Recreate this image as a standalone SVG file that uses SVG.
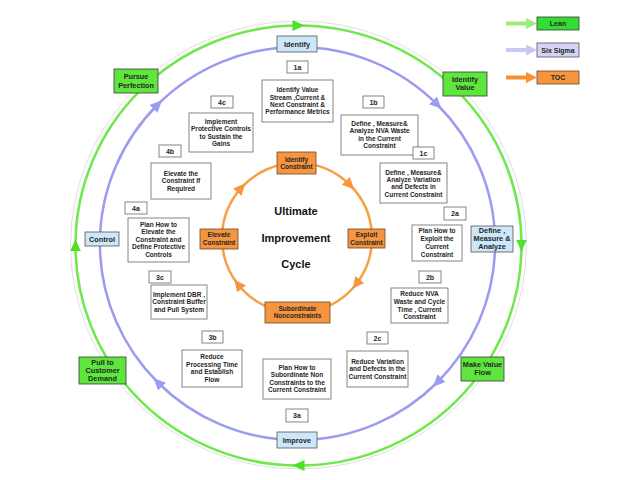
<svg xmlns="http://www.w3.org/2000/svg" width="640" height="480" viewBox="0 0 640 480">
<style>
text{font-family:"Liberation Sans",Arial,sans-serif;font-weight:bold;fill:#262626;text-anchor:middle}
.t{font-size:6.5px}
.lb{font-size:7px}
.c{font-size:7.3px}
.ttl{font-size:11px;fill:#111}
.wb{fill:#fff;stroke:#666;stroke-width:0.8}
.gb{fill:#5fe63c;stroke:#3a3a3a;stroke-width:0.8}
.bb{fill:#cbe7f8;stroke:#555;stroke-width:0.8}
.ob{fill:#f7953e;stroke:#6a4a2a;stroke-width:0.8}
.ring{fill:none;stroke-width:2.5}
</style>
<defs>
<marker id="ag" markerUnits="userSpaceOnUse" markerWidth="13" markerHeight="13" refX="6" refY="5.5" orient="auto"><path d="M0,0 L12,5.5 L0,11 z" fill="#4fe02a"/></marker>
<marker id="ap" markerUnits="userSpaceOnUse" markerWidth="13" markerHeight="13" refX="6" refY="5.5" orient="auto"><path d="M0,0 L12,5.5 L0,11 z" fill="#9b9bf2"/></marker>
<marker id="ao" markerUnits="userSpaceOnUse" markerWidth="13" markerHeight="13" refX="6" refY="5.5" orient="auto"><path d="M0,0 L12,5.5 L0,11 z" fill="#f7963a"/></marker>
</defs>

<g id="connectors">
<ellipse cx="298.5" cy="245" rx="228" ry="224" fill="none" stroke="#e0e0e0" stroke-width="1"/>
<path class="ring" stroke="#6ee84a" marker-mid="url(#ag)" d="M140.8,89.9 A223,220 0 0 1 298.5,25.5 A223,220 0 0 1 521.5,245.5 A223,220 0 0 1 298.5,465.5 A223,220 0 0 1 75.5,245.5 A223,220 0 0 1 140.8,89.9"/>
<path class="ring" stroke="#9b9bf2" marker-mid="url(#ap)" d="M297.5,47 A197.5,196.5 0 0 1 437.2,104.5 A197.5,196.5 0 0 1 437.2,382.5 A197.5,196.5 0 0 1 157.8,382.5 A197.5,196.5 0 0 1 157.8,104.5 A197.5,196.5 0 0 1 297.5,47"/>
<path class="ring" stroke="#f7a045" marker-mid="url(#ao)" d="M297,163 A75,75 0 0 1 350,185 A75,75 0 0 1 356.1,284.2 A75,75 0 0 1 237.9,284.2 A75,75 0 0 1 241.3,187.8 A75,75 0 0 1 297,163"/>
</g>

<g id="legend">
<g id="leg-lean"><line x1="506" y1="23.5" x2="528" y2="23.5" stroke="#9cec7c" stroke-width="4"/><path d="M526,18 L537,23.5 L526,29 z" fill="#9cec7c"/><rect class="gb" x="537" y="17" width="42" height="13" style="fill:#33dd33"/><text class="lb" x="558" y="26">Lean</text></g>
<g id="leg-sigma"><line x1="506" y1="50" x2="528" y2="50" stroke="#c8c8f4" stroke-width="4"/><path d="M526,44.5 L537,50 L526,55.5 z" fill="#c8c8f4"/><rect class="bb" x="537" y="43" width="42" height="14" style="fill:#d4d4f6"/><text class="lb" x="558" y="52.5">Six Sigma</text></g>
<g id="leg-toc"><line x1="506" y1="77.5" x2="528" y2="77.5" stroke="#f59033" stroke-width="4"/><path d="M526,72 L537,77.5 L526,83 z" fill="#f59033"/><rect class="ob" x="537" y="71" width="42" height="13"/><text class="lb" x="558" y="80">TOC</text></g>
</g>

<g id="title"><text class="ttl" x="296" y="215">Ultimate</text><text class="ttl" x="296" y="242">Improvement</text><text class="ttl" x="296" y="268">Cycle</text></g>

<g id="identify-constraint"><rect class="ob" x="277" y="152" width="39" height="22"/><text class="t" x="296.5" y="161.5">Identify</text><text class="t" x="296.5" y="169">Constraint</text></g>
<g id="exploit-constraint"><rect class="ob" x="348" y="229" width="37" height="19"/><text class="t" x="366.5" y="237.3">Exploit</text><text class="t" x="366.5" y="244.6">Constraint</text></g>
<g id="subordinate"><rect class="ob" x="265" y="302" width="65" height="21"/><text class="t" x="297.5" y="310.6">Subordinate</text><text class="t" x="297.5" y="318">Nonconstraints</text></g>
<g id="elevate-constraint"><rect class="ob" x="200" y="229" width="38" height="20"/><text class="t" x="219" y="237.3">Elevate</text><text class="t" x="219" y="244.6">Constraint</text></g>

<g id="identify"><rect class="bb" x="277" y="36" width="40" height="16"/><text class="c" x="297" y="46.7">Identify</text></g>
<g id="dma"><rect class="bb" x="471" y="226" width="42" height="26"/><text class="c" x="492" y="232.5">Define ,</text><text class="c" x="492" y="240.8">Measure  &amp;</text><text class="c" x="492" y="249.1">Analyze</text></g>
<g id="improve"><rect class="bb" x="277" y="432" width="40" height="16"/><text class="c" x="297" y="442.7">Improve</text></g>
<g id="control"><rect class="bb" x="85" y="232" width="34" height="14"/><text class="c" x="102" y="241.7">Control</text></g>

<g id="identify-value"><rect class="gb" x="443" y="72" width="44" height="24"/><text class="c" x="465" y="81.8">Identify</text><text class="c" x="465" y="89.8">Value</text></g>
<g id="make-value-flow"><rect class="gb" x="461" y="357" width="43" height="24"/><text class="c" x="482.5" y="366.8">Make Value</text><text class="c" x="482.5" y="374.8">Flow</text></g>
<g id="pull"><rect class="gb" x="79" y="357" width="47" height="27"/><text class="c" x="102.5" y="364.8">Pull to</text><text class="c" x="102.5" y="372.6">Customer</text><text class="c" x="102.5" y="380.6">Demand</text></g>
<g id="pursue"><rect class="gb" x="114" y="69" width="44" height="24"/><text class="c" x="136" y="79.2">Pursue</text><text class="c" x="136" y="87.5">Perfection</text></g>

<g id="n1a"><rect class="wb" x="287" y="61" width="21" height="12"/><text class="lb" x="297.5" y="69.5">1a</text></g>
<g id="s1a"><rect class="wb" x="262" y="80" width="71" height="42"/><text class="t" x="297.5" y="92.2">Identify  Value</text><text class="t" x="297.5" y="99.6">Stream ,Current  &amp;</text><text class="t" x="297.5" y="107">Next Constraint &amp;</text><text class="t" x="297.5" y="114.4">Performance Metrics</text></g>
<g id="n1b"><rect class="wb" x="363" y="96" width="21" height="12"/><text class="lb" x="373.5" y="104.5">1b</text></g>
<g id="s1b"><rect class="wb" x="341" y="115" width="77" height="40"/><text class="t" x="379.5" y="125.7">Define , Measure&amp;</text><text class="t" x="379.5" y="133.2">Analyze NVA Waste</text><text class="t" x="379.5" y="140.7">in the Current</text><text class="t" x="379.5" y="148.2">Constraint</text></g>
<g id="n1c"><rect class="wb" x="413" y="147" width="21" height="12"/><text class="lb" x="423.5" y="155.5">1c</text></g>
<g id="s1c"><rect class="wb" x="380" y="163" width="67" height="40"/><text class="t" x="413.5" y="174.6">Define , Measure&amp;</text><text class="t" x="413.5" y="182">Analyze Variation</text><text class="t" x="413.5" y="189.4">and Defects in</text><text class="t" x="413.5" y="196.8">Current Constraint</text></g>
<g id="n2a"><rect class="wb" x="444" y="207" width="22" height="13"/><text class="lb" x="455" y="216">2a</text></g>
<g id="s2a"><rect class="wb" x="412" y="225" width="50" height="36"/><text class="t" x="437" y="233.2">Plan How to</text><text class="t" x="437" y="241.1">Exploit the</text><text class="t" x="437" y="249">Current</text><text class="t" x="437" y="256.6">Constraint</text></g>
<g id="n2b"><rect class="wb" x="419" y="271" width="22" height="12"/><text class="lb" x="430" y="279.5">2b</text></g>
<g id="s2b"><rect class="wb" x="391" y="288" width="57" height="35"/><text class="t" x="419.5" y="296.3">Reduce NVA</text><text class="t" x="419.5" y="303.9">Waste and Cycle</text><text class="t" x="419.5" y="311.5">Time   , Current</text><text class="t" x="419.5" y="319">Constraint</text></g>
<g id="n2c"><rect class="wb" x="367" y="332" width="21" height="12"/><text class="lb" x="377.5" y="340.5">2c</text></g>
<g id="s2c"><rect class="wb" x="347" y="351" width="61" height="36"/><text class="t" x="377.5" y="363.6">Reduce Variation</text><text class="t" x="377.5" y="371.2">and Defects in the</text><text class="t" x="377.5" y="378.8">Current Constraint</text></g>
<g id="s3a"><rect class="wb" x="263" y="359" width="68" height="40"/><text class="t" x="297" y="369.6">Plan How to</text><text class="t" x="297" y="377.2">Subordinate Non</text><text class="t" x="297" y="384.8">Constraints to the</text><text class="t" x="297" y="392.4">Current Constraint</text></g>
<g id="n3a"><rect class="wb" x="286" y="409" width="22" height="13"/><text class="lb" x="297" y="418">3a</text></g>
<g id="n3b"><rect class="wb" x="202" y="331" width="21" height="12"/><text class="lb" x="212.5" y="339.5">3b</text></g>
<g id="s3b"><rect class="wb" x="182" y="350" width="60" height="37"/><text class="t" x="212" y="359.1">Reduce</text><text class="t" x="212" y="366.7">Processing Time</text><text class="t" x="212" y="374.3">and Establish</text><text class="t" x="212" y="381.9">Flow</text></g>
<g id="n3c"><rect class="wb" x="149" y="271" width="22" height="12"/><text class="lb" x="160" y="279.5">3c</text></g>
<g id="s3c"><rect class="wb" x="151" y="285" width="56" height="34"/><text class="t" x="179" y="296.7">Implement DBR ,</text><text class="t" x="179" y="304.3">Constraint Buffer</text><text class="t" x="179" y="311.9">and Pull System</text></g>
<g id="n4a"><rect class="wb" x="125" y="202" width="22" height="12"/><text class="lb" x="136" y="210.5">4a</text></g>
<g id="s4a"><rect class="wb" x="128" y="218" width="61" height="44"/><text class="t" x="158.5" y="226.6">Plan How to</text><text class="t" x="158.5" y="234.2">Elevate the</text><text class="t" x="158.5" y="241.8">Constraint and</text><text class="t" x="158.5" y="249.4">Define Protective</text><text class="t" x="158.5" y="257">Controls</text></g>
<g id="n4b"><rect class="wb" x="159" y="145" width="22" height="12"/><text class="lb" x="170" y="153.5">4b</text></g>
<g id="s4b"><rect class="wb" x="151" y="163" width="60" height="36"/><text class="t" x="181" y="175.6">Elevate the</text><text class="t" x="181" y="183.2">Constraint If</text><text class="t" x="181" y="190.8">Required</text></g>
<g id="n4c"><rect class="wb" x="211" y="96" width="22" height="12"/><text class="lb" x="222" y="104.5">4c</text></g>
<g id="s4c"><rect class="wb" x="189" y="113" width="64" height="39"/><text class="t" x="221" y="123.5">Implement</text><text class="t" x="221" y="131">Protective Controls</text><text class="t" x="221" y="138.5">to Sustain the</text><text class="t" x="221" y="146">Gains</text></g>
</svg>
